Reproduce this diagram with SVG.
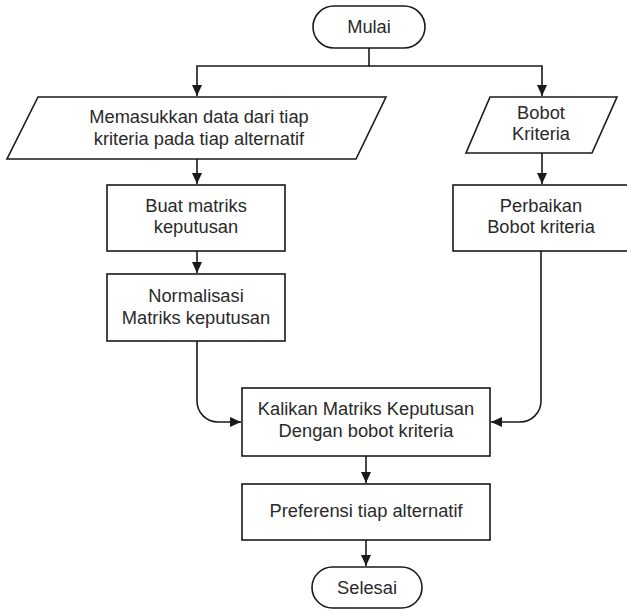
<svg xmlns="http://www.w3.org/2000/svg" width="627" height="609" viewBox="0 0 627 609">
<style>
.shape{fill:#fff;stroke:#1a1a1a;stroke-width:1.6}
.conn{fill:none;stroke:#1a1a1a;stroke-width:1.6}
text{font-family:"Liberation Sans",Arial,sans-serif;font-size:18.3px;fill:#2a2a2a;text-anchor:middle}
</style>
<defs>
<marker id="arr" markerUnits="userSpaceOnUse" markerWidth="12" markerHeight="12" viewBox="0 0 12 12" refX="11" refY="6" orient="auto">
<path d="M0,1 L11,6 L0,11 Z" fill="#1a1a1a"/>
</marker>
</defs>
<rect width="627" height="609" fill="#fff"/>
<g id="connectors">
<path class="conn" d="M369,48 V66 H197 V96" marker-end="url(#arr)"/>
<path class="conn" d="M369,66 H542 V96" marker-end="url(#arr)"/>
<path class="conn" d="M197,159 V184" marker-end="url(#arr)"/>
<path class="conn" d="M542,153 V184" marker-end="url(#arr)"/>
<path class="conn" d="M197,251 V273" marker-end="url(#arr)"/>
<path class="conn" d="M197,341 V401 A21,21 0 0 0 218,422 H241" marker-end="url(#arr)"/>
<path class="conn" d="M541,251 V401 A21,21 0 0 1 520,422 H491" marker-end="url(#arr)"/>
<path class="conn" d="M366,456 V483" marker-end="url(#arr)"/>
<path class="conn" d="M366,540 V566" marker-end="url(#arr)"/>
</g>
<g id="mulai">
<rect class="shape" x="313" y="6" width="112" height="42" rx="21"/>
<text x="369" y="33">Mulai</text>
</g>
<g id="input-data">
<polygon class="shape" points="38,97 386,97 356,159 7,159"/>
<text x="199" y="123">Memasukkan data dari tiap</text>
<text x="199" y="145">kriteria pada tiap alternatif</text>
</g>
<g id="bobot-kriteria">
<polygon class="shape" points="490,97 617,97 592,153 466,153"/>
<text x="541" y="119">Bobot</text>
<text x="541" y="140">Kriteria</text>
</g>
<g id="buat-matriks">
<rect class="shape" x="107" y="185" width="178" height="66"/>
<text x="196" y="212">Buat matriks</text>
<text x="196" y="233">keputusan</text>
</g>
<g id="perbaikan">
<rect class="shape" x="453" y="185" width="180" height="66"/>
<text x="541" y="212">Perbaikan</text>
<text x="541" y="233">Bobot kriteria</text>
</g>
<g id="normalisasi">
<rect class="shape" x="107" y="274" width="178" height="67"/>
<text x="196" y="302">Normalisasi</text>
<text x="196" y="324">Matriks keputusan</text>
</g>
<g id="kalikan">
<rect class="shape" x="242" y="388" width="248" height="68"/>
<text x="366" y="415">Kalikan Matriks Keputusan</text>
<text x="366" y="437">Dengan bobot kriteria</text>
</g>
<g id="preferensi">
<rect class="shape" x="242" y="484" width="248" height="56"/>
<text x="366" y="517">Preferensi tiap alternatif</text>
</g>
<g id="selesai">
<rect class="shape" x="312" y="567" width="110" height="41" rx="20.5"/>
<text x="367" y="594">Selesai</text>
</g>
</svg>
